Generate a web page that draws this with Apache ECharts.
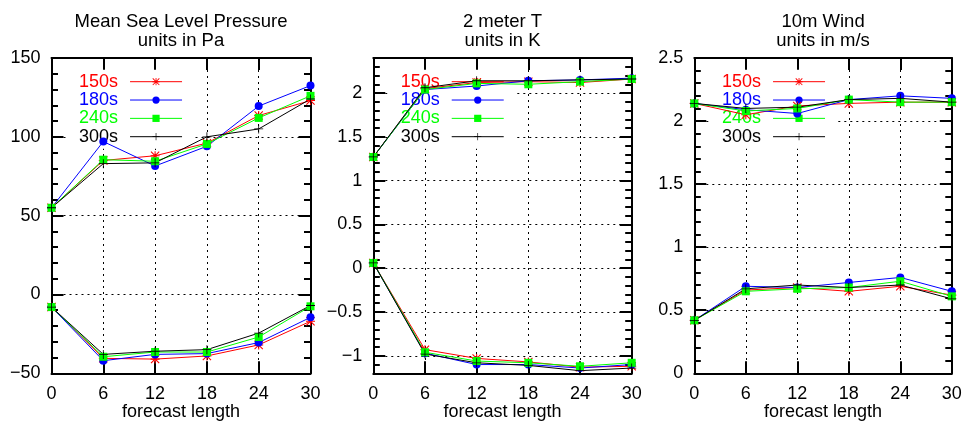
<!DOCTYPE html>
<html><head><meta charset="utf-8">
<script src="https://cdn.jsdelivr.net/npm/echarts@6/dist/echarts.min.js"></script>
<style>html,body{margin:0;padding:0;background:#fff}#c{width:966px;height:421px}</style>
</head><body><div id="c"></div>
<script>
// ---------- data ----------
const hours = [0, 6, 12, 18, 24, 30];
const hourLabels = ['0', '6', '12', '18', '24', '30'];
const runs = ['150s', '180s', '240s', '300s'];

// Mean Sea Level Pressure (Pa)
const mslpUpper150 = [55, 85, 88, 96, 113.5, 123];
const mslpUpper180 = [55, 97, 81.5, 94, 119.5, 132.5];
const mslpUpper240 = [55, 85.5, 84.5, 95.5, 112, 126];
const mslpUpper300 = [55, 83, 83.5, 100, 105, 124];
const mslpLower150 = [-8, -40.5, -41, -39, -32, -17];
const mslpLower180 = [-8, -42, -38, -37.5, -30.5, -14.5];
const mslpLower240 = [-8, -39.5, -36.5, -36.5, -27, -7.5];
const mslpLower300 = [-8, -38, -36, -35, -24.5, -7];
const mslpTicks = [-50, 0, 50, 100, 150];
const mslpTickLabels = ['\u221250', '0', '50', '100', '150'];

// 2 meter T (K)
const t2mUpper150 = [1.27, 2.05, 2.12, 2.13, 2.12, 2.16];
const t2mUpper180 = [1.27, 2.04, 2.08, 2.14, 2.15, 2.17];
const t2mUpper240 = [1.27, 2.04, 2.11, 2.10, 2.13, 2.16];
const t2mUpper300 = [1.27, 2.06, 2.14, 2.14, 2.15, 2.16];
const t2mLower150 = [0.06, -0.93, -1.03, -1.07, -1.13, -1.12];
const t2mLower180 = [0.06, -0.97, -1.10, -1.10, -1.14, -1.10];
const t2mLower240 = [0.06, -0.96, -1.06, -1.08, -1.12, -1.08];
const t2mLower300 = [0.06, -0.98, -1.08, -1.11, -1.17, -1.14];
const t2mTicks = [-1, -0.5, 0, 0.5, 1, 1.5, 2];
const t2mTickLabels = ['\u22121', '\u22120.5', '0', '0.5', '1', '1.5', '2'];

// 10m Wind (m/s)
const windUpper150 = [2.14, 2.05, 2.12, 2.14, 2.15, 2.15];
const windUpper180 = [2.14, 2.09, 2.06, 2.17, 2.20, 2.18];
const windUpper240 = [2.14, 2.08, 2.10, 2.17, 2.15, 2.15];
const windUpper300 = [2.14, 2.10, 2.11, 2.17, 2.18, 2.15];
const windLower150 = [0.42, 0.66, 0.68, 0.65, 0.69, 0.62];
const windLower180 = [0.42, 0.69, 0.68, 0.72, 0.76, 0.65];
const windLower240 = [0.42, 0.65, 0.67, 0.68, 0.73, 0.61];
const windLower300 = [0.42, 0.67, 0.70, 0.68, 0.70, 0.59];
const windTicks = [0, 0.5, 1, 1.5, 2, 2.5];
const windTickLabels = ['0', '0.5', '1', '1.5', '2', '2.5'];

// ---------- styling ----------
const FONT = '"Liberation Sans", Arial, sans-serif';
const colors = {'150s': '#ff0000', '180s': '#0000ff', '240s': '#00ff00', '300s': '#000000'};
const ASTERISK = 'path://M8.8 0L11.2 0L11.2 20L8.8 20Z M0 8.8L20 8.8L20 11.2L0 11.2Z M1.7 0L20 18.3L18.3 20L0 1.7Z M18.3 0L20 1.7L1.7 20L0 18.3Z';
const PLUS = 'path://M9.1 0L10.9 0L10.9 20L9.1 20Z M0 9.1L20 9.1L20 10.9L0 10.9Z';
const symbols = {'150s': [ASTERISK, 9], '180s': ['circle', 8], '240s': ['rect', 8], '300s': [PLUS, 9]};

const panels = [
  {title: 'Mean Sea Level Pressure\nunits in Pa', min: -50, max: 150, minor: 10, ticks: mslpTicks, labels: mslpTickLabels,
   upper: [mslpUpper150, mslpUpper180, mslpUpper240, mslpUpper300], lower: [mslpLower150, mslpLower180, mslpLower240, mslpLower300],
   left: 51.5, width: 259, legendLeft: 66},
  {title: '2 meter T\nunits in K', min: -1.2, max: 2.4, minor: 0.1, ticks: t2mTicks, labels: t2mTickLabels,
   upper: [t2mUpper150, t2mUpper180, t2mUpper240, t2mUpper300], lower: [t2mLower150, t2mLower180, t2mLower240, t2mLower300],
   left: 373.3, width: 258.4, legendLeft: 387.7},
  {title: '10m Wind\nunits in m/s', min: 0, max: 2.5, minor: 0.1, ticks: windTicks, labels: windTickLabels,
   upper: [windUpper150, windUpper180, windUpper240, windUpper300], lower: [windLower150, windLower180, windLower240, windLower300],
   left: 694.3, width: 257.5, legendLeft: 709}
];

const TOP = 58, HEIGHT = 315.3;
const axisLine = {show: true, onZero: false, lineStyle: {color: '#000', width: 2}};
const dotted = {show: true, lineStyle: {color: '#000', width: 1, type: [2, 4]}};

const grid = [], xAxis = [], yAxis = [], series = [], legend = [], graphic = [];

panels.forEach((p, i) => {
  grid.push({left: p.left, top: TOP, width: p.width, height: HEIGHT, containLabel: false, outerBoundsMode: 'none'});
  graphic.push({type: 'text', x: p.left + p.width / 2, y: 12.5, z: 10,
    style: {text: p.title, fill: '#000', fontSize: 18.5, fontFamily: FONT, align: 'center', verticalAlign: 'top', lineHeight: 19}});
  const xBase = {gridIndex: i, type: 'value', min: 0, max: 30, interval: 6, axisLine,
    axisTick: {show: true, inside: true, length: 12, lineStyle: {color: '#000', width: 2}}};
  xAxis.push(Object.assign({}, xBase, {position: 'bottom',
    axisLabel: {show: true, fontSize: 18, color: '#000', fontFamily: FONT, margin: 12,
      formatter: v => hourLabels[hours.indexOf(v)]},
    splitLine: dotted,
    name: 'forecast length', nameLocation: 'middle', nameGap: 30, nameMoveOverlap: false,
    nameTextStyle: {fontSize: 18, color: '#000', fontFamily: FONT, verticalAlign: 'top', lineHeight: 18}}));
  xAxis.push(Object.assign({}, xBase, {position: 'top', axisLabel: {show: false}, splitLine: {show: false}}));

  const majorBase = {gridIndex: i, type: 'value', min: p.min, max: p.max, splitNumber: p.ticks.length, axisLine,
    axisTick: {show: true, inside: true, length: 12, customValues: p.ticks, lineStyle: {color: '#000', width: 2}}};
  const minorBase = {gridIndex: i, type: 'value', min: p.min, max: p.max, interval: p.minor,
    axisLine: {show: false, onZero: false}, axisLabel: {show: false}, splitLine: {show: false},
    axisTick: {show: true, inside: true, length: 6.5, lineStyle: {color: '#000', width: 2}}};
  yAxis.push(Object.assign({}, majorBase, {position: 'left',
    axisLabel: {show: true, customValues: p.ticks, fontSize: 18, color: '#000', fontFamily: FONT, margin: 11,
      formatter: v => { const k = p.ticks.findIndex(t => Math.abs(t - v) < 1e-9); return k >= 0 ? p.labels[k] : ''; }},
    splitLine: dotted}));
  yAxis.push(Object.assign({}, minorBase, {position: 'left'}));
  yAxis.push(Object.assign({}, majorBase, {position: 'right', axisLabel: {show: false}, splitLine: {show: false}}));
  yAxis.push(Object.assign({}, minorBase, {position: 'right'}));

  runs.forEach((r, k) => {
    [p.upper[k], p.lower[k]].forEach(vals => {
      series.push({type: 'line', name: r, xAxisIndex: 2 * i, yAxisIndex: 4 * i,
        data: hours.map((h, j) => [h, vals[j]]),
        symbol: symbols[r][0], symbolSize: symbols[r][1], showAllSymbol: true, clip: false,
        itemStyle: {color: colors[r]}, lineStyle: {color: colors[r], width: 1}, z: 3, animation: false});
    });
  });

  legend.push({z: 1, left: p.legendLeft, top: 69.7, orient: 'vertical', align: 'right',
    itemWidth: 52, itemHeight: 9, itemGap: 0.33, padding: [3, 10, 3, 13], backgroundColor: '#fff',
    selectedMode: false, data: runs, lineStyle: {width: 1},
    formatter: name => '{c' + runs.indexOf(name) + '|' + name + '}',
    textStyle: {fontSize: 18, fontFamily: FONT, lineHeight: 18,
      rich: {
        c0: {color: colors['150s'], fontSize: 18, fontFamily: FONT, lineHeight: 18, padding: [0, 7, 0, 0]},
        c1: {color: colors['180s'], fontSize: 18, fontFamily: FONT, lineHeight: 18, padding: [0, 7, 0, 0]},
        c2: {color: colors['240s'], fontSize: 18, fontFamily: FONT, lineHeight: 18, padding: [0, 7, 0, 0]},
        c3: {color: colors['300s'], fontSize: 18, fontFamily: FONT, lineHeight: 18, padding: [0, 7, 0, 0]}
      }}});
});

const chart = echarts.init(document.getElementById('c'), null, {renderer: 'canvas'});
chart.setOption({animation: false, backgroundColor: '#fff', grid, xAxis, yAxis, series, legend, graphic});
</script>
</body></html>
